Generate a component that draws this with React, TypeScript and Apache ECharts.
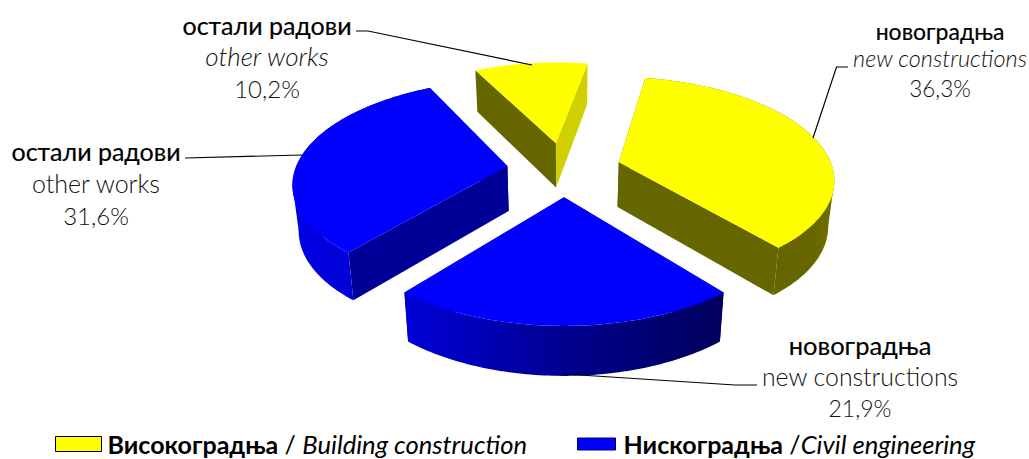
import React, { useEffect, useRef } from "react";
import * as echarts from "echarts";

// ---- data ----
const sliceValues = [36.3, 21.9, 31.6, 10.2];
const buildingIdx = [0, 3];
const civilIdx = [1, 2];
const seriesNames = ["Високоградња / Building construction", "Нискоградња /Civil engineering"];
const labelTop = ["новоградња", "новоградња", "остали радови", "остали радови"];
const labelEn = ["new constructions", "new constructions", "other works", "other works"];
const labelItalic = [true, false, false, true];

// ---- layout ----
const FIRST_ANGLE = 9.9;
const CX = 564, CY = 169, A = 212, B = 100, P = 0.15, H = 45, E = 0.27, CONV = 0.023;
const nudgeX = [2, 0, 0, 0];
const labelPos = [[940, 31, 58, 88], [860, 345, 376, 408], [96, 151, 183, 215], [267, 25, 56, 88]];
const labelSizes = [[23, 23.5, 22.5], [25.5, 24.8, 23], [25, 25, 24], [25, 26, 24]];
const leaders = [
  [[848, 67], [836.5, 67], [813, 138]],
  [[564, 374], [735, 385], [757, 385]],
  [[185, 158], [302, 155]],
  [[356, 31], [368, 31], [532, 65]],
];
const topColors = ["#ffff00", "#0000ff", "#0000ff", "#ffff00"];
const startFace = ["#666600", "#000099", "#000099", "#666600"];
const endFace = ["#666600", "#000099", "#000099", "#d0d000"];
const drawBand = [true, true, true, false];
const bandStops = [
  [[0, "#666600"], [0.88, "#666600"], [1, "#707000"]],
  [[0, "#0000d8"], [0.5, "#000090"], [1, "#00005c"]],
  [[0, "#0000e6"], [1, "#0000c0"]],
  [[0, "#666600"], [1, "#666600"]],
];

const rad = (d: number) => (d * Math.PI) / 180;
const proj = (X: number, Y: number, z: number): number[] => {
  const w = 1 + P * Y;
  return [CX + (A * X * (1 - CONV * z)) / w, CY - (B * Y) / w + (z * H) / Math.sqrt(w)];
};

function sliceRange(i: number) {
  let a = FIRST_ANGLE;
  for (let k = 0; k < i; k++) a += sliceValues[k] * 3.6;
  return [a, a + sliceValues[i] * 3.6];
}

function renderSlice(params: any, api: any) {
  const i = api.value(0);
  const [a0, a1] = sliceRange(i);
  const mid = rad((a0 + a1) / 2);
  const ex = E * Math.sin(mid), ey = E * Math.cos(mid);
  const pt = (deg: number, r: number, z: number) => {
    const q = proj(ex + r * Math.sin(rad(deg)), ey + r * Math.cos(rad(deg)), z);
    return [q[0] + nudgeX[i] * r, q[1]];
  };
  const arcTop: number[][] = [];
  const arcBot: number[][] = [];
  const n = Math.ceil(a1 - a0);
  for (let k = 0; k <= n; k++) {
    const d = a0 + ((a1 - a0) * k) / n;
    arcTop.push(pt(d, 1, 0));
    arcBot.push(pt(d, 1, 1));
  }
  const apexT = pt(a0, 0, 0), apexB = pt(a0, 0, 1);
  const poly = (points: number[][], fill: any) => ({
    type: "polygon",
    shape: { points },
    style: { fill, stroke: "none" },
  });
  const xs = arcTop.map((p) => p[0]);
  const xMin = Math.min(...xs), xMax = Math.max(...xs);
  const grad = new echarts.graphic.LinearGradient(
    xMin, 0, xMax, 0,
    bandStops[i].map((s: any) => ({ offset: s[0], color: s[1] })),
    true
  );
  const band: any[] = [];
  if (drawBand[i]) {
    band.push(poly([...arcTop, ...arcBot.slice().reverse()], grad));
    // the swept side's silhouette: the straight edge between the top and bottom rims at the arc's widest point
    for (const e of [xs.indexOf(xMin), xs.indexOf(xMax)]) {
      if (e > 0 && e < n) {
        const a = arcTop[Math.min(n, e + 30)], b = arcTop[Math.max(0, e - 30)];
        band.push(poly([arcTop[e], arcBot[e], a[1] > b[1] ? a : b], grad));
      }
    }
  }
  return {
    type: "group",
    children: [
      poly([apexT, arcTop[0], arcBot[0], apexB], startFace[i]),
      poly([apexT, arcTop[n], arcBot[n], apexB], endFace[i]),
      ...band,
      poly([apexT, ...arcTop], topColors[i]),
    ],
  };
}

const pct = (v: number) => v.toFixed(1).replace(".", ",") + "%";
const FONT = "Lato, 'Noto Sans', sans-serif";

function legendOpt(idx: number, left: number, top: number, w: number, h: number, color: string, border: string) {
  return {
    show: true,
    left,
    top,
    orient: "horizontal",
    padding: 0,
    itemWidth: w,
    itemHeight: h,
    itemGap: 0,
    icon: "rect",
    data: [seriesNames[idx]],
    itemStyle: { color, borderColor: border, borderWidth: 1 },
    textStyle: {
      padding: [0, 0, 0, idx === 0 ? 1 : 3],
      rich: {
        b: { fontFamily: FONT, fontSize: 25, lineHeight: 22, fontWeight: "bold", color: "#000" },
        r: { fontFamily: FONT, fontSize: 25, lineHeight: 22, color: "#000" },
        i: { fontFamily: FONT, fontSize: 25.6, lineHeight: 22, fontStyle: "italic", color: "#000" },
      },
    },
    formatter: (name: string) => {
      const [a, b] = name.split("/");
      return `{b|${a.trim()}}{r| ${b.startsWith(" ") ? "/ " : "/"}}{i|${b.trim()}}`;
    },
  };
}

export default function App() {
  const ref = useRef<HTMLDivElement>(null);
  useEffect(() => {
    const chart = echarts.init(ref.current!, null, { renderer: "svg" });
    const texts: any[] = [];
    sliceValues.forEach((v, i) => {
      const [x, y1, y2, y3] = labelPos[i];
      const [s1, s2, s3] = labelSizes[i];
      const base = { type: "text", x, style: { textAlign: "center", textVerticalAlign: "middle", fontFamily: FONT } };
      texts.push({ ...base, y: y1, style: { ...base.style, text: labelTop[i], fontSize: s1, fontWeight: 400, fill: "#000", stroke: "#000", lineWidth: 0.2 } });
      texts.push({ ...base, y: y2, style: { ...base.style, text: labelEn[i], fontSize: s2, fontWeight: 300, fontStyle: labelItalic[i] ? "italic" : "normal", fill: "#111" } });
      texts.push({ ...base, y: y3, style: { ...base.style, text: pct(v), fontSize: s3, fontWeight: 300, fill: "#111" } });
    });
    const lines = leaders.map((points) => ({
      type: "polyline",
      shape: { points },
      style: { fill: "none", stroke: "#000", lineWidth: 1.2 },
      z: 10,
    }));
    chart.setOption({
      animation: false,
      backgroundColor: "#fff",
      legend: [
        legendOpt(0, 55, 431, 46, 15, "#ffff00", "#000"),
        legendOpt(1, 577, 431, 38, 12, "#0000ff", "#000060"),
      ],
      series: [
        { type: "custom", name: seriesNames[0], coordinateSystem: "none", itemStyle: { color: "#ffff00" }, renderItem: renderSlice, data: buildingIdx.map((i) => [i, sliceValues[i]]) },
        { type: "custom", name: seriesNames[1], coordinateSystem: "none", itemStyle: { color: "#0000ff" }, renderItem: renderSlice, data: civilIdx.map((i) => [i, sliceValues[i]]) },
      ],
      graphic: { elements: [...lines, ...texts] },
    });
    return () => chart.dispose();
  }, []);
  return <div ref={ref} style={{ position: "fixed", left: 0, top: 0, width: 1029, height: 459 }} />;
}
